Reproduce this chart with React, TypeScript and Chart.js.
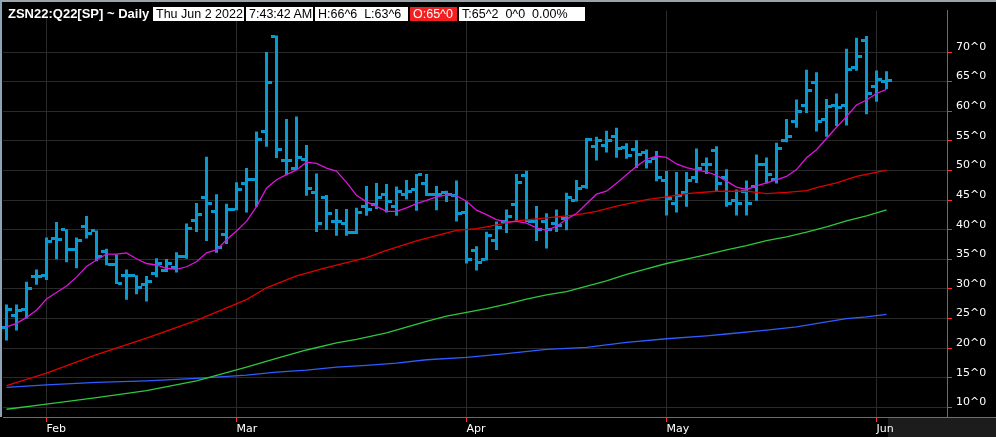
import React, { useEffect, useRef } from 'react';
import { Chart, registerables } from 'chart.js';

Chart.register(...registerables);

// ---- OHLC (one entry per trading day, Jan 26 2022 .. Jun 2 2022) ----
const opens = [
  23.5, 25.5, 26.5, 32.1, 32.2, 38.5, 40.1, 36.6, 40.6, 39.85,
  36.3, 34.1, 32.3, 32.3, 30.7, 32.6, 33.1, 33.7, 35.5, 41.55,
  45.4, 43.0, 39.2, 43.5, 47.8, 48.4, 56.5, 72.6, 51.7, 50.3,
  51.8, 46.3, 45.5, 41.4, 41.0, 39.6, 43.9, 44.3, 45.9, 44.0,
  45.9, 46.8, 47.8, 45.9, 46.3, 45.8, 42.9, 36.55, 35.0, 38.1,
  41.4, 44.3, 49.2, 41.4, 41.4, 41.1, 41.9, 44.9, 47.35, 54.0,
  54.25, 55.75, 53.8, 53.6, 53.1, 52.0, 48.25, 44.45, 46.3, 48.9,
  51.0, 53.3, 48.8, 44.9, 46.4, 47.3, 51.0, 48.5, 55.05, 58.25,
  61.0, 64.8, 58.6, 61.05, 61.05, 67.4, 72.0, 64.1, 65.0,
];
const highs = [
  27.4, 27.4, 31.2, 33.3, 38.7, 41.3, 40.1, 38.7, 42.3, 39.85,
  36.8, 35.8, 33.3, 32.3, 32.2, 35.2, 35.05, 36.2, 41.05, 44.5,
  52.3, 46.0, 44.4, 48.0, 50.4, 56.6, 70.0, 72.8, 58.7, 59.1,
  54.3, 49.5, 45.85, 43.5, 43.5, 43.7, 47.4, 47.9, 47.7, 47.3,
  48.4, 49.4, 49.4, 47.4, 46.6, 48.3, 44.8, 37.2, 39.65, 41.4,
  43.4, 49.4, 49.95, 44.0, 42.8, 43.4, 46.25, 48.4, 55.5, 55.7,
  56.7, 57.2, 54.6, 55.1, 53.55, 53.3, 49.9, 49.75, 49.75, 53.7,
  52.2, 54.1, 50.2, 46.8, 48.3, 52.7, 52.2, 54.7, 58.7, 62.0,
  67.0, 66.6, 62.05, 63.0, 70.55, 72.4, 72.7, 66.9, 66.75,
];
const lows = [
  21.3, 23.0, 25.0, 30.7, 31.5, 35.0, 34.5, 33.5, 38.5, 34.7,
  34.0, 30.85, 28.2, 29.1, 27.9, 32.0, 32.85, 32.8, 35.1, 39.6,
  38.1, 36.1, 37.6, 43.3, 42.9, 43.9, 54.0, 52.1, 49.2, 50.1,
  45.75, 39.6, 39.95, 39.0, 39.0, 39.3, 42.35, 43.5, 42.9, 42.35,
  45.1, 43.2, 45.7, 43.3, 44.7, 41.4, 34.3, 33.1, 34.8, 36.6,
  39.45, 41.3, 41.3, 38.1, 36.85, 39.6, 39.9, 44.75, 46.9, 51.7,
  53.05, 52.15, 52.0, 50.4, 50.35, 48.2, 42.4, 42.9, 43.9, 47.9,
  49.4, 46.4, 43.9, 42.4, 42.4, 44.9, 47.8, 47.8, 54.75, 57.2,
  59.7, 56.6, 55.7, 57.5, 57.6, 66.85, 59.5, 61.6, 63.75,
];
const closes = [
  26.5, 26.4, 30.0, 32.1, 38.0, 38.3, 36.6, 38.2, 39.3, 35.4,
  34.2, 31.0, 32.3, 30.2, 31.2, 34.3, 34.25, 35.5, 40.2, 42.5,
  44.5, 37.0, 43.5, 46.8, 48.5, 55.25, 64.9, 53.6, 51.7, 52.2,
  46.9, 41.0, 42.8, 41.4, 39.6, 42.9, 43.5, 45.4, 44.8, 46.5,
  46.5, 49.3, 45.9, 45.9, 45.9, 42.7, 35.0, 34.45, 38.95, 40.4,
  42.3, 47.9, 41.4, 40.0, 40.0, 40.7, 45.4, 46.9, 55.25, 55.1,
  55.1, 53.7, 52.6, 52.75, 51.5, 48.9, 45.3, 45.7, 48.25, 50.3,
  51.0, 47.8, 44.45, 44.45, 44.45, 51.0, 49.3, 53.7, 55.8, 60.0,
  63.5, 58.2, 60.8, 60.55, 67.1, 69.3, 63.0, 65.4, 65.25,
];

// ---- moving averages ----
const maShort = [
  23.6, 24.2, 25.2, 26.4, 28.3, 29.4, 30.5, 32.0, 33.8, 34.9,
  35.9, 35.9, 36.1, 35.1, 34.3, 34.05, 33.5, 33.3, 33.75, 34.6,
  36.1, 36.6, 38.3, 39.8, 41.4, 43.9, 47.0, 48.45, 49.3, 50.1,
  51.4, 51.2, 50.4, 49.9, 48.0, 45.8, 44.7, 43.95, 43.1, 43.1,
  43.7, 44.4, 44.95, 45.55, 45.9, 45.7, 44.8, 43.3, 42.55, 41.7,
  41.3, 41.4, 41.1, 40.3, 39.9, 40.55, 41.8, 42.75, 44.4, 46.0,
  46.5, 47.85, 49.3, 50.7, 51.9, 52.4, 52.2, 51.1, 50.5, 50.1,
  49.75, 49.2, 48.2, 47.2, 46.8, 47.4, 47.9, 48.4, 49.0, 50.15,
  52.15, 53.5, 55.4, 57.3, 59.1, 61.05, 61.9, 63.0, 63.7,
];
const redIdx = [0, 4, 9, 14, 19, 24, 26, 29, 32, 36, 38, 41, 45, 47, 48, 51, 54, 57, 59, 61, 63, 64, 66, 68, 71, 74, 76, 78, 80, 81, 83, 85, 88];
const redVals = [13.7, 15.8, 18.9, 21.7, 24.7, 28.2, 30.2, 32.2, 33.6, 35.3, 36.5, 38.1, 39.9, 40.2, 40.5, 41.5, 42.0, 42.5, 43.1, 44.0, 44.7, 45.1, 45.55, 46.1, 46.5, 46.5, 46.1, 46.3, 46.6, 47.1, 47.9, 49.0, 50.05];
const greenIdx = [0, 4, 9, 14, 19, 24, 27, 30, 33, 35, 38, 40, 42, 44, 46, 48, 50, 52, 54, 56, 60, 62, 64, 66, 68, 70, 72, 74, 76, 78, 80, 82, 84, 86, 88];
const greenVals = [9.7, 10.55, 11.65, 12.85, 14.5, 16.8, 18.3, 19.7, 20.9, 21.5, 22.6, 23.55, 24.55, 25.4, 26.05, 26.7, 27.45, 28.3, 29.0, 29.55, 31.35, 32.45, 33.4, 34.3, 35.05, 35.8, 36.6, 37.3, 38.15, 38.8, 39.6, 40.5, 41.5, 42.35, 43.35];
const blueIdx = [0, 4, 9, 14, 19, 24, 27, 30, 33, 36, 39, 42, 46, 50, 54, 58, 62, 66, 70, 72, 76, 79, 82, 84, 86, 88];
const blueVals = [13.4, 13.8, 14.25, 14.5, 14.9, 15.45, 15.95, 16.3, 16.8, 17.1, 17.5, 18.05, 18.45, 19.1, 19.8, 20.15, 21.0, 21.6, 22.1, 22.4, 23.05, 23.6, 24.45, 25.0, 25.3, 25.7];

// ---- axes ----
const monthTickIdx = [4, 23, 46, 66, 87];
const monthLabels = ['Feb', 'Mar', 'Apr', 'May', 'Jun'];
const yTickValues = [10, 15, 20, 25, 30, 35, 40, 45, 50, 55, 60, 65, 70];

const BAR = '#0a98d0';
const AXIS_RED = '#ff2e2e';
const GRID = '#2a2a2a';
const AXIS_FONT = { family: '"DejaVu Sans", sans-serif', size: 11 };

const pts = (xs: number[], ys: number[]) => ys.map((y, i) => ({ x: xs[i], y }));
const seq = (ys: number[]) => ys.map((y, i) => ({ x: i, y }));

// draws the open (left) and close (right) ticks right after the high-low bars
const ohlcTicks = {
  id: 'ohlcTicks',
  afterDatasetDraw(chart: any, args: any) {
    if (args.meta.type !== 'bar') return;
    const { ctx, scales } = chart;
    const xs = scales.x;
    const ys = scales.y;
    ctx.save();
    ctx.fillStyle = BAR;
    opens.forEach((o, i) => {
      const cx = xs.getPixelForValue(i);
      const yo = Math.round(ys.getPixelForValue(o) - 1.5);
      const yc = Math.round(ys.getPixelForValue(closes[i]) - 1.5);
      ctx.fillRect(Math.round(cx - 5.5), yo, 4, 3);
      ctx.fillRect(Math.round(cx + 1.5), yc, 4, 3);
    });
    ctx.restore();
  },
};

export default function App() {
  const ref = useRef<HTMLCanvasElement>(null);

  useEffect(() => {
    document.body.style.margin = '0';
    document.body.style.background = '#000';
    const line = (data: any[], color: string, width: number, order: number) => ({
      type: 'line' as const,
      data,
      borderColor: color,
      borderWidth: width,
      pointRadius: 0,
      tension: 0,
      fill: false,
      order,
    });
    const chart = new Chart(ref.current!, {
      type: 'line',
      data: {
        datasets: [
          line(pts(blueIdx, blueVals), '#2f5cff', 1.3, 3),
          line(pts(greenIdx, greenVals), '#2cc83e', 1.3, 2),
          line(pts(redIdx, redVals), '#e00000', 1.3, 1),
          line(seq(maShort), '#dc14dc', 1.3, 0),
          {
            type: 'bar',
            data: highs.map((h, i) => ({ x: i, y: [lows[i], h] })) as any,
            backgroundColor: BAR,
            barThickness: 3,
            borderWidth: 0,
            inflateAmount: 0,
            grouped: false,
            order: 6,
          } as any,
        ],
      },
      plugins: [ohlcTicks],
      options: {
        animation: false,
        responsive: false,
        events: [],
        layout: { padding: { left: 3, top: 3, right: 0, bottom: 0 } },
        plugins: { legend: { display: false }, tooltip: { enabled: false } },
        scales: {
          x: {
            type: 'linear',
            min: -0.35,
            max: 94.05,
            offset: false,
            afterBuildTicks: (s: any) => {
              s.ticks = monthTickIdx.map((v) => ({ value: v }));
            },
            afterFit: (s: any) => {
              s.height = 20;
            },
            grid: { color: GRID, tickColor: AXIS_RED, tickLength: 5, offset: false, lineWidth: 1 },
            border: { color: AXIS_RED, width: 1 },
            ticks: {
              color: '#ffffff',
              align: 'start',
              autoSkip: false,
              maxRotation: 0,
              padding: 1,
              font: AXIS_FONT,
              callback: (v: any) => {
                const k = monthTickIdx.indexOf(Number(v));
                return k >= 0 ? monthLabels[k] : '';
              },
            },
          },
          y: {
            type: 'linear',
            position: 'right',
            min: 8.39,
            max: 76.99,
            afterBuildTicks: (s: any) => {
              s.ticks = yTickValues.map((v) => ({ value: v }));
            },
            afterFit: (s: any) => {
              s.width = 49;
            },
            grid: { color: GRID, tickColor: AXIS_RED, tickLength: 5, lineWidth: 1 },
            border: { color: AXIS_RED, width: 1 },
            ticks: {
              color: '#ffffff',
              padding: 4,
              labelOffset: -5,
              font: AXIS_FONT,
              callback: (v: any) => `${v}^0`,
            },
          },
        },
      } as any,
    });
    return () => chart.destroy();
  }, []);

  const hdrFont = '"Liberation Sans", Arial, sans-serif';
  const box = (left: number, width: number, text: string, bg = '#ffffff', fg = '#000000') => (
    <div
      style={{
        position: 'absolute',
        left,
        top: 7,
        width,
        height: 14,
        background: bg,
        color: fg,
        font: `12.5px ${hdrFont}`,
        lineHeight: '14px',
        paddingLeft: 3,
        boxSizing: 'border-box',
        whiteSpace: 'pre',
        overflow: 'hidden',
      }}
    >
      {text}
    </div>
  );

  return (
    <div style={{ position: 'relative', width: 996, height: 437, background: '#000', overflow: 'hidden' }}>
      <div style={{ position: 'absolute', left: 888, top: 418, width: 108, height: 19, background: '#1c1c1c' }} />
      <canvas ref={ref} width={996} height={437} style={{ position: 'absolute', left: 0, top: 0, width: 996, height: 437 }} />
      <div style={{ position: 'absolute', left: 947, top: 417, width: 49, height: 1, background: AXIS_RED }} />
      <div style={{ position: 'absolute', left: 0, top: 0, width: 996, height: 2, background: '#9aa2ab' }} />
      <div style={{ position: 'absolute', left: 0, top: 0, width: 2, height: 417, background: '#8ea2b8' }} />
      <div
        style={{
          position: 'absolute',
          left: 8,
          top: 6,
          color: '#ffffff',
          font: `bold 13px ${hdrFont}`,
          lineHeight: '16px',
          whiteSpace: 'pre',
        }}
      >
        ZSN22:Q22[SP] ~ Daily
      </div>
      {box(153, 91, 'Thu Jun 2 2022')}
      {box(246, 67, '7:43:42 AM')}
      {box(315, 93, 'H:66^6  L:63^6')}
      {box(410, 47, 'O:65^0', '#f22020', '#ffffff')}
      {box(459, 126, 'T:65^2  0^0  0.00%')}
    </div>
  );
}
